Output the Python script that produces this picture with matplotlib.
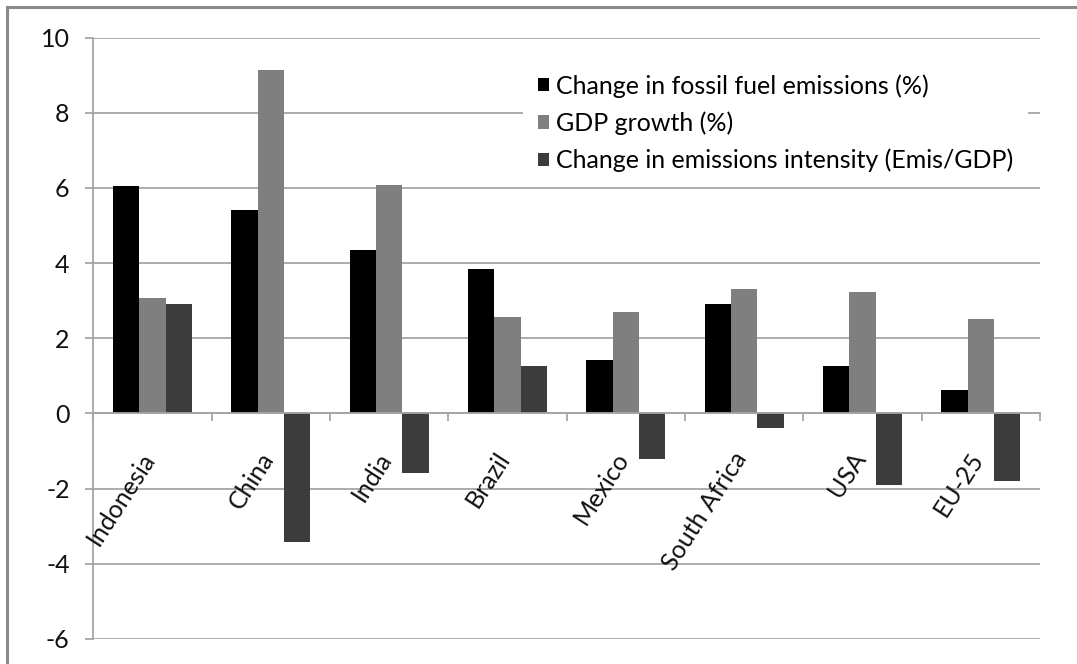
import numpy as np
import matplotlib
matplotlib.use('Agg')
import matplotlib.pyplot as plt
from matplotlib.patches import Rectangle

# Annual change by economy, %
countries = ['Indonesia', 'China', 'India', 'Brazil', 'Mexico',
             'South Africa', 'USA', 'EU-25']
fossil_emissions = [6.04, 5.40, 4.36, 3.83, 1.42, 2.91, 1.27, 0.62]
gdp_growth = [3.07, 9.14, 6.07, 2.56, 2.69, 3.31, 3.24, 2.50]
emis_intensity = [2.91, -3.43, -1.58, 1.27, -1.21, -0.40, -1.90, -1.80]

series_names = ['Change in fossil fuel emissions (%)',
                'GDP growth (%)',
                'Change in emissions intensity (Emis/GDP)']
series_colors = ['#000000', '#7f7f7f', '#3c3c3c']

plt.rcParams['font.family'] = ['Lato', 'DejaVu Sans']
plt.rcParams['axes.unicode_minus'] = False

W, H = 1077, 664
fig = plt.figure(figsize=(W / 100, H / 100), dpi=100)
ax = fig.add_axes([93.3 / W, (H - 639) / H, (1040 - 93.3) / W, (639 - 37.5) / H])

# grey frame round the chart
fig.add_artist(Rectangle((7 / W, -0.1), 1.2, (H - 7) / H + 0.1,
                         transform=fig.transFigure, fill=False,
                         edgecolor='#8a8a8a', lw=2.2))

x = np.arange(len(countries))
bw = 1 / 4.5
for k, (vals, name, col) in enumerate(zip([fossil_emissions, gdp_growth, emis_intensity],
                                          series_names, series_colors)):
    ax.bar(x + (k - 1) * bw, vals, bw, color=col, label=name, zorder=3)

ax.set_xlim(-0.5, len(countries) - 0.5)
ax.set_ylim(-6, 10)
ax.set_yticks(np.arange(-6, 11, 2))
grid_col = '#a6a6a6'
ax.yaxis.grid(True, color=grid_col, lw=1.3, zorder=0)

for s in ['top', 'right']:
    ax.spines[s].set_visible(False)
ax.spines['left'].set_color(grid_col)
ax.spines['left'].set_linewidth(1.3)
ax.spines['bottom'].set_position(('data', 0))
ax.spines['bottom'].set_color(grid_col)
ax.spines['bottom'].set_linewidth(1.3)
ax.spines['bottom'].set_zorder(4)

# tick marks sit on the category boundaries
ax.set_xticks(np.arange(len(countries) + 1) - 0.5)
ax.set_xticklabels([])
ax.tick_params(axis='x', length=6, width=1.3, color=grid_col, direction='out')
ax.tick_params(axis='y', length=6, width=1.3, color=grid_col, pad=11,
               labelsize=18, labelcolor='#111111')

# slanted country names hanging just under the zero line
for i, name in enumerate(countries):
    ax.text(i + 0.06, 0.3175, name, transform=ax.get_xaxis_transform(),
            rotation=57, ha='right', va='top', fontsize=18, color='#111111')

leg = ax.legend(loc='upper left', bbox_to_anchor=(523 / W, 1 - 59 / H),
                bbox_transform=fig.transFigure, borderaxespad=0,
                fontsize=18, frameon=True, framealpha=1, facecolor='white',
                edgecolor='none', fancybox=False, handlelength=0.45,
                handleheight=0.45, handletextpad=0.25, labelspacing=0.55,
                borderpad=0.6)
leg.set_zorder(5)

fig.savefig('out.png', dpi=100)
